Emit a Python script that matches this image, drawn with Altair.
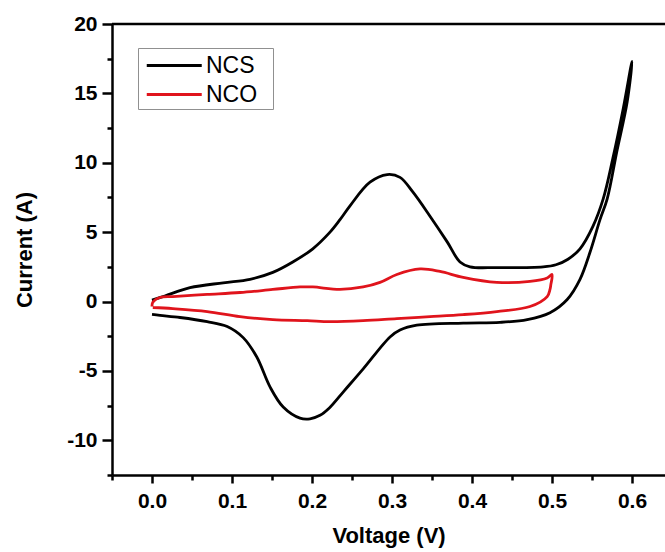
import altair as alt
import pandas as pd

# NCS cyclic voltammogram (forward sweep then reverse sweep)
ncs_v = [0.0, 0.016, 0.0475, 0.089, 0.1225, 0.151, 0.176, 0.201, 0.2225, 0.235, 0.2475, 0.2725,
         0.294, 0.31, 0.326, 0.3475, 0.369, 0.385, 0.3975, 0.431, 0.489, 0.505, 0.52, 0.535, 0.551,
         0.564, 0.576, 0.589, 0.6,
         0.594, 0.581, 0.569, 0.56, 0.5475, 0.535, 0.519, 0.4975, 0.469, 0.435, 0.389, 0.331, 0.31,
         0.2975, 0.264, 0.24, 0.222, 0.21, 0.1975, 0.185, 0.164, 0.1475, 0.131, 0.114, 0.094, 0.069,
         0.035, 0.01, 0.0]
ncs_i = [0.1, 0.4, 1.0, 1.35, 1.6, 2.1, 2.85, 3.8, 5.0, 5.9, 6.9, 8.6,
         9.15, 8.95, 7.9, 6.15, 4.3, 2.85, 2.5, 2.45, 2.5, 2.65, 3.05, 3.8, 5.4,
         7.4, 10.3, 13.9, 17.3,
         14.4, 10.8, 7.4, 5.9, 3.55, 1.6, 0.15, -0.8, -1.3, -1.5, -1.55, -1.7, -2.05,
         -2.55, -4.85, -6.45, -7.65, -8.2, -8.45, -8.4, -7.6, -6.15, -4.0, -2.6, -1.8, -1.45,
         -1.15, -1.0, -0.93]

# NCO cyclic voltammogram
nco_v = [0.0, 0.001, 0.01, 0.026, 0.069, 0.11, 0.151, 0.185, 0.201, 0.235, 0.264, 0.285, 0.306,
         0.335, 0.36, 0.389, 0.431, 0.4725, 0.494, 0.5,
         0.4985, 0.4975, 0.494, 0.4725, 0.431, 0.389, 0.3475, 0.306, 0.264, 0.2225, 0.194, 0.151,
         0.11, 0.069, 0.026, 0.001]
nco_i = [-0.35, -0.05, 0.29, 0.36, 0.51, 0.65, 0.87, 1.05, 1.05, 0.87, 1.05, 1.38, 1.95,
         2.35, 2.17, 1.74, 1.38, 1.45, 1.7, 1.95,
         1.2, 0.87, 0.36, -0.36, -0.72, -0.94, -1.09, -1.23, -1.38, -1.45, -1.38, -1.3,
         -1.09, -0.72, -0.51, -0.43]

series_names = ["NCS", "NCO"]
series_colors = ["#000000", "#e0141c"]

x_ticks = [round(-0.05 + 0.05 * k, 2) for k in range(14)]
y_ticks = [-12.5 + 2.5 * k for k in range(14)]

df = pd.concat([
    pd.DataFrame({"V": ncs_v, "I": ncs_i, "Sample": "NCS", "idx": range(len(ncs_v))}),
    pd.DataFrame({"V": nco_v, "I": nco_i, "Sample": "NCO", "idx": range(len(nco_v))}),
])

FONT = "Liberation Sans"

x_axis = alt.Axis(
    values=x_ticks,
    labelExpr="abs(datum.value*10 - round(datum.value*10)) < 0.001 ? format(datum.value, '.1f') : ''",
    tickSize={"condition": {"test": "abs(datum.value*10 - round(datum.value*10)) < 0.001", "value": 8}, "value": 5},
    tickWidth=2.5, tickColor="black", domainWidth=2.5, domainColor="black",
    labelFont=FONT, labelFontSize=21, labelColor="black", labelFontWeight="bold",
    labelPadding=7, labelOverlap=False, grid=False,
    title="Voltage (V)", titleFont=FONT, titleFontWeight="bold", titleFontSize=22,
    titleColor="black", titlePadding=14,
)
y_axis = alt.Axis(
    values=y_ticks,
    labelExpr="abs(datum.value % 5) < 0.001 ? ('' + datum.value) : ''",
    tickSize={"condition": {"test": "abs(datum.value % 5) < 0.001", "value": 10}, "value": 5},
    tickWidth=2.5, tickColor="black", domainWidth=2.5, domainColor="black",
    labelFont=FONT, labelFontSize=21, labelColor="black", labelFontWeight="bold",
    labelPadding=5, labelOverlap=False, grid=False,
    title="Current (A)", titleFont=FONT, titleFontWeight="bold", titleFontSize=22,
    titleColor="black", titlePadding=30,
)

lines = alt.Chart(df).mark_line(strokeWidth=2.8, interpolate="catmull-rom").encode(
    x=alt.X("V:Q", scale=alt.Scale(domain=[-0.05, 0.64125], nice=False, zero=False), axis=x_axis),
    y=alt.Y("I:Q", scale=alt.Scale(domain=[-12.5, 20], nice=False, zero=False), axis=y_axis),
    color=alt.Color(
        "Sample:N",
        scale=alt.Scale(domain=series_names, range=series_colors),
        legend=alt.Legend(
            title=".", titleOrient="right", titlePadding=12, titleFontSize=6, titleColor="white",
            orient="none", legendX=26, legendY=24,
            symbolType="M-2,0H2", symbolSize=756, symbolStrokeWidth=2.8,
            symbolOffset=18.75, labelOffset=16.25,
            labelFont=FONT, labelFontSize=23, labelColor="black",
            strokeColor="#909090", fillColor="white", padding=2, rowPadding=1,
        ),
    ),
    order=alt.Order("idx:Q"),
)

top_border = alt.Chart(alt.Data(values=[{"a": 1}])).mark_rule(
    color="black", strokeWidth=2.5
).encode(x=alt.value(0), x2=alt.value(553), y=alt.value(0))

chart = alt.layer(lines, top_border).properties(
    width=553, height=451,
    autosize=alt.AutoSizeParams(type="none"),
    padding={"left": 112, "top": 24, "right": 0, "bottom": 77},
    background="white",
).configure_view(stroke=None)

chart.save("out.html", embed_options={"renderer": "svg", "actions": False})
